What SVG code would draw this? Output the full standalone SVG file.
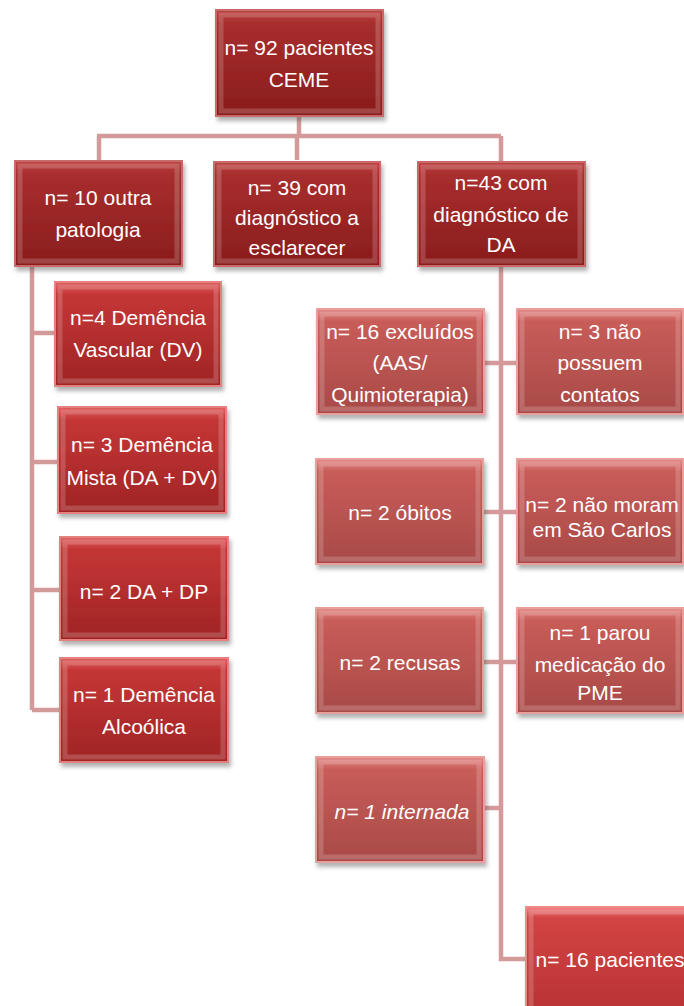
<svg xmlns="http://www.w3.org/2000/svg" width="684" height="1006" viewBox="0 0 684 1006">
<defs>
<linearGradient id="gDark" x1="0" y1="0" x2="0" y2="1">
<stop offset="0" stop-color="#c04444"/><stop offset="0.12" stop-color="#a82e2e"/><stop offset="1" stop-color="#8a1c1c"/>
</linearGradient>
<linearGradient id="gRed" x1="0" y1="0" x2="0" y2="1">
<stop offset="0" stop-color="#e06060"/><stop offset="0.12" stop-color="#c43636"/><stop offset="1" stop-color="#a02424"/>
</linearGradient>
<linearGradient id="gSoft" x1="0" y1="0" x2="0" y2="1">
<stop offset="0" stop-color="#e38a86"/><stop offset="0.12" stop-color="#c85c58"/><stop offset="1" stop-color="#a84a48"/>
</linearGradient>
<linearGradient id="gBright" x1="0" y1="0" x2="0" y2="1">
<stop offset="0" stop-color="#f08080"/><stop offset="0.1" stop-color="#d24444"/><stop offset="1" stop-color="#b83232"/>
</linearGradient>
<filter id="sh" x="-10%" y="-10%" width="125%" height="130%">
<feDropShadow dx="2" dy="4" stdDeviation="2" flood-color="#555" flood-opacity="0.45"/>
</filter>
</defs>
<style>
.box{filter:url(#sh);stroke-width:2}
.dark{fill:url(#gDark);stroke:#c86a6a}
.red{fill:url(#gRed);stroke:#e48080}
.soft{fill:url(#gSoft);stroke:#e8a09c}
.bright{fill:url(#gBright);stroke:#ee8a88}
.bevel{fill:none;stroke:#ffffff;stroke-opacity:0.18;stroke-width:5}
.t{font-family:"Liberation Sans","DejaVu Sans",sans-serif;font-size:21px;fill:#ffffff;text-anchor:middle}
.c{fill:none;stroke:#d49a9a;stroke-width:4.5}
</style>
<g id="connectors">
<path class="c" d="M299 117V136M97 136H501M99 136V160M297 136V160M501 136V162"/>
<path class="c" d="M32 267V710M32 333H55M32 462H58M32 590H60M32 710H60"/>
<path class="c" d="M501 267V959H526M484 363H517M484 512H517M484 662H517M484 808H501"/>
</g>
<g id="n92"><rect class="box dark" x="216" y="10" width="167" height="106"/><rect class="bevel" x="221" y="15" width="157" height="96"/><text class="t" x="299" y="55">n= 92 pacientes</text><text class="t" x="299" y="87">CEME</text></g>
<g id="n10"><rect class="box dark" x="15" y="161" width="167" height="105"/><rect class="bevel" x="20" y="166" width="157" height="95"/><text class="t" x="98" y="205">n= 10 outra</text><text class="t" x="98" y="237">patologia</text></g>
<g id="n39"><rect class="box dark" x="214" y="162" width="166" height="104"/><rect class="bevel" x="219" y="167" width="156" height="94"/><text class="t" x="297" y="195">n= 39 com</text><text class="t" x="297" y="225">diagnóstico a</text><text class="t" x="297" y="255">esclarecer</text></g>
<g id="n43"><rect class="box dark" x="418" y="162" width="167" height="104"/><rect class="bevel" x="423" y="167" width="157" height="94"/><text class="t" x="501" y="190">n=43 com</text><text class="t" x="501" y="222">diagnóstico de</text><text class="t" x="501" y="252">DA</text></g>
<g id="n4"><rect class="box red" x="55" y="282" width="166" height="104"/><rect class="bevel" x="60" y="287" width="156" height="94"/><text class="t" x="138" y="325">n=4 Demência</text><text class="t" x="138" y="357">Vascular (DV)</text></g>
<g id="n3"><rect class="box red" x="58" y="407" width="168" height="106"/><rect class="bevel" x="63" y="412" width="158" height="96"/><text class="t" x="142" y="452">n= 3 Demência</text><text class="t" x="142" y="485">Mista (DA + DV)</text></g>
<g id="n2dp"><rect class="box red" x="60" y="537" width="168" height="103"/><rect class="bevel" x="65" y="542" width="158" height="93"/><text class="t" x="144" y="599">n= 2 DA + DP</text></g>
<g id="n1alc"><rect class="box red" x="60" y="658" width="168" height="104"/><rect class="bevel" x="65" y="663" width="158" height="94"/><text class="t" x="144" y="702">n= 1 Demência</text><text class="t" x="144" y="734">Alcoólica</text></g>
<g id="n16exc"><rect class="box soft" x="317" y="309" width="167" height="105"/><rect class="bevel" x="322" y="314" width="157" height="95"/><text class="t" x="400" y="339">n= 16 excluídos</text><text class="t" x="400" y="370">(AAS/</text><text class="t" x="400" y="402">Quimioterapia)</text></g>
<g id="n3nao"><rect class="box soft" x="517" y="309" width="166" height="105"/><rect class="bevel" x="522" y="314" width="156" height="95"/><text class="t" x="600" y="339">n= 3 não</text><text class="t" x="600" y="370">possuem</text><text class="t" x="600" y="402">contatos</text></g>
<g id="n2obitos"><rect class="box soft" x="316" y="459" width="167" height="105"/><rect class="bevel" x="321" y="464" width="157" height="95"/><text class="t" x="400" y="520">n= 2 óbitos</text></g>
<g id="n2moram"><rect class="box soft" x="517" y="459" width="166" height="105"/><rect class="bevel" x="522" y="464" width="156" height="95"/><text class="t" x="602" y="512">n= 2 não moram</text><text class="t" x="602" y="537">em São Carlos</text></g>
<g id="n2recusas"><rect class="box soft" x="316" y="608" width="167" height="105"/><rect class="bevel" x="321" y="613" width="157" height="95"/><text class="t" x="400" y="670">n= 2 recusas</text></g>
<g id="n1parou"><rect class="box soft" x="517" y="608" width="166" height="105"/><rect class="bevel" x="522" y="613" width="156" height="95"/><text class="t" x="600" y="640">n= 1 parou</text><text class="t" x="600" y="672">medicação do</text><text class="t" x="600" y="700">PME</text></g>
<g id="n1internada"><rect class="box soft" x="316" y="757" width="168" height="105"/><rect class="bevel" x="321" y="762" width="158" height="95"/><text class="t" x="402" y="819" font-style="italic">n= 1 internada</text></g>
<g id="n16pac"><rect class="box bright" x="526" y="907" width="170" height="110"/><rect class="bevel" x="531" y="912" width="160" height="100"/><text class="t" x="610" y="967">n= 16 pacientes</text></g>
</svg>
